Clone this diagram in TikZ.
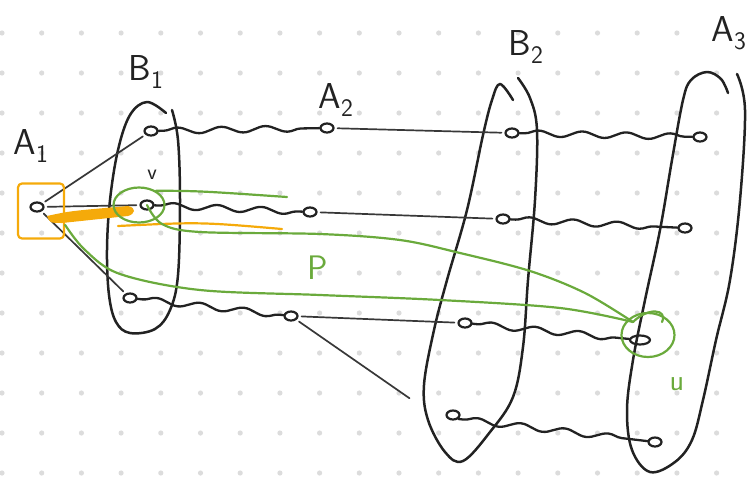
\documentclass[tikz,border=0pt]{standalone}
\usetikzlibrary{shapes.geometric,decorations.pathmorphing}
\definecolor{pengreen}{RGB}{106,170,60}
\definecolor{penorange}{RGB}{245,170,10}
\definecolor{penblack}{RGB}{34,34,34}
\definecolor{dotgray}{RGB}{220,220,220}

\begin{document}
\begin{tikzpicture}[x=1pt,y=-1pt,line width=2.4pt,line cap=round,line join=round,
    vtx/.style={draw=penblack,ellipse,minimum width=13pt,minimum height=9pt,inner sep=0pt,line width=2.2pt},
    blob/.style={draw=penblack,line width=2.5pt},
    lbl/.style={font=\sffamily\fontsize{36}{36}\selectfont,text=penblack,inner sep=0pt},
    wave/.style={draw=penblack,line width=2.3pt,decorate,decoration={snake,amplitude=3pt,segment length=44pt,pre length=5pt,post length=4pt}},
    link/.style={draw=penblack!90,line width=1.7pt,shorten <=3pt,shorten >=3pt},
    gpath/.style={draw=pengreen,line width=2.2pt},
    ring/.style={draw=pengreen,ellipse,line width=2.2pt,inner sep=0pt},
    glbl/.style={font=\sffamily\fontsize{34}{34}\selectfont,text=pengreen,inner sep=0pt}]
    \useasboundingbox (0,0) rectangle (752,477);
    \foreach \i in {0,...,18}
        \foreach \j in {0,...,11}
            \fill[dotgray] (2+39.7*\i,33+40*\j) circle (2.6pt);

    \node[lbl] (la1) at (31,146) {A\textsubscript{1}};
    \node[lbl] (lb1) at (146,72) {B\textsubscript{1}};
    \node[lbl] (la2) at (336,100) {A\textsubscript{2}};
    \node[lbl] (lb2) at (526,47) {B\textsubscript{2}};
    \node[lbl] (la3) at (729,33) {A\textsubscript{3}};
    \node[lbl,font=\sffamily\fontsize{22}{22}\selectfont] (lv) at (152,175) {v};

    \draw[blob] plot[smooth,tension=.6] coordinates {(166,113) (147,102) (130,115) (118,150) (110,200) (107,250) (109,295) (116,322) (130,333) (155,329) (170,310) (178,275) (180,200) (178,140) (172,110)};
    \draw[blob] plot[smooth,tension=.6] coordinates {(513,100) (500,84) (492,100) (483,135) (467,210) (447,280) (434,330) (424,385) (428,420) (445,452) (463,461) (490,432) (513,397) (523,347) (528,280) (535,200) (537,130) (530,98) (518,78)};
    \draw[blob] plot[smooth,tension=.6] coordinates {(728,93) (721,79) (707,72) (691,80) (683,100) (672,160) (660,230) (645,300) (633,360) (627,410) (632,450) (650,472) (675,462) (692,440) (703,400) (716,340) (730,280) (740,200) (745,110) (737,74)};

    \node[vtx] (a1) at (37,207) {};
    \node[vtx] (b1a) at (151,131) {};
    \node[vtx] (v) at (147,205) {};
    \node[vtx] (b1c) at (130,298) {};
    \node[vtx] (a2a) at (327,128) {};
    \node[vtx] (a2b) at (310,212) {};
    \node[vtx] (a2c) at (291,316) {};
    \node[vtx] (b2a) at (512,133) {};
    \node[vtx] (b2b) at (503,219) {};
    \node[vtx] (b2c) at (465,323) {};
    \node[vtx] (b2d) at (453,415) {};
    \node[vtx] (a3a) at (700,137) {};
    \node[vtx] (a3b) at (685,228) {};
    \node[vtx,minimum width=20pt] (u) at (640,340) {};
    \node[vtx] (a3d) at (655,442) {};
    \coordinate (loose) at (412,400);

    \draw[link] (a1) -- (b1a);
    \draw[link] (a1) -- (v);
    \draw[link] (a1) -- (b1c);
    \draw[wave] (b1a) -- (a2a);
    \draw[wave] (v) -- (a2b);
    \draw[wave] (b1c) -- (a2c);
    \draw[link] (a2a) -- (b2a);
    \draw[link] (a2b) -- (b2b);
    \draw[link] (a2c) -- (b2c);
    \draw[link] (a2c) -- (loose);
    \draw[wave] (b2a) -- (a3a);
    \draw[wave] (b2b) -- (a3b);
    \draw[wave] (b2c) -- (u);
    \draw[wave] (b2d.south east) -- (a3d);

    \node[draw=penorange,line width=2.2pt,rounded corners=4pt,minimum width=46pt,minimum height=55pt] (a1box) at (41,211) {};
    \fill[penorange] (47,216) .. controls (70,211) .. (128,206) .. controls (137,208) and (135,214) .. (128,216) -- (62,223) .. controls (50,223) .. cycle;
    \draw[draw=penorange,line width=2.2pt] (118,226) .. controls (200,222) .. (282,229);

    \node[ring,minimum width=51pt,minimum height=35pt] (vring) at (139,205) {};
    \node[ring,minimum width=53pt,minimum height=44pt] (uring) at (648,335) {};
    \coordinate (vtail) at (287,197);
    \coordinate (tip) at (633,322);
    \draw[gpath] (vring.40) .. controls (200,191) .. (vtail);
    \draw[gpath] plot[smooth,tension=.55] coordinates {(v.center) (162,224) (200,232) (320,234) (400,240) (460,253) (530,271) (585,293) (tip)};
    \draw[gpath] plot[smooth,tension=.55] coordinates {(a1box.-30) (85,250) (120,274) (200,290) (320,295) (440,300) (560,308) (tip)};
    \draw[gpath] (tip) .. controls (648,307) and (668,309) .. (662,322);
    \node[glbl] (lp) at (318,268) {P};
    \node[glbl,font=\sffamily\fontsize{30}{30}\selectfont] (lu) at (677,384) {u};
\end{tikzpicture}
\end{document}
